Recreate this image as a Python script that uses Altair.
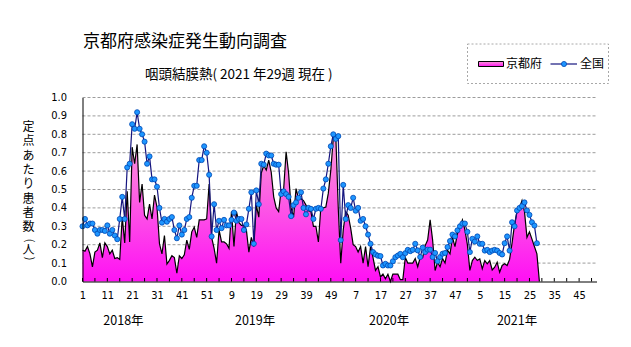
import altair as alt
import pandas as pd

# ---------------- data ----------------
kyoto_2018 = [0.17, 0.165, 0.19, 0.15, 0.08, 0.16, 0.17, 0.21, 0.13, 0.21,
              0.19, 0.15, 0.17, 0.125, 0.13, 0.12, 0.35, 0.21, 0.49, 0.215,
              0.73, 0.64, 0.745, 0.43, 0.53, 0.36, 0.34, 0.42, 0.34, 0.47,
              0.405, 0.205, 0.15, 0.25, 0.095, 0.115, 0.14, 0.13, 0.045, 0.14,
              0.125, 0.145, 0.225, 0.175, 0.27, 0.295, 0.24, 0.335, 0.335, 0.335,
              0.34, 0.53]
kyoto_2019 = [0.24, 0.18, 0.10, 0.28, 0.215, 0.215, 0.205, 0.18, 0.38, 0.19,
              0.38, 0.32, 0.305, 0.305, 0.28, 0.16, 0.24, 0.19, 0.415, 0.35,
              0.59, 0.63, 0.605, 0.66, 0.595, 0.46, 0.40, 0.38, 0.50, 0.50,
              0.705, 0.59, 0.40, 0.35, 0.505, 0.45, 0.45, 0.44, 0.415, 0.385,
              0.38, 0.30, 0.30, 0.215, 0.405, 0.40, 0.405, 0.48, 0.605, 0.78,
              0.795, 0.40]
kyoto_2020 = [0.10, 0.28, 0.38, 0.36, 0.29, 0.20, 0.19, 0.16, 0.19, 0.10,
              0.19, 0.08, 0.19, 0.13, 0.06, 0.08, 0.025, 0.04, 0.015, 0.04,
              0.0, 0.04, 0.04, 0.04, 0.01, 0.01, 0.13, 0.10, 0.10, 0.10,
              0.125, 0.08, 0.13, 0.13, 0.195, 0.225, 0.335, 0.225, 0.06, 0.105,
              0.08, 0.125, 0.10, 0.17, 0.15, 0.24, 0.19, 0.26, 0.295, 0.335,
              0.28, 0.20]
kyoto_2021 = [0.06, 0.114, 0.132, 0.114, 0.123, 0.069, 0.114, 0.096, 0.114, 0.063,
              0.078, 0.105, 0.05, 0.087, 0.096, 0.087, 0.12, 0.21, 0.31, 0.38,
              0.40, 0.44, 0.38, 0.24, 0.27, 0.23, 0.19, 0.15, 0.0]

national_2018 = [0.30, 0.34, 0.305, 0.315, 0.315, 0.28, 0.26, 0.28, 0.28, 0.275,
                 0.305, 0.26, 0.28, 0.25, 0.23, 0.34, 0.46, 0.34, 0.62, 0.64,
                 0.855, 0.83, 0.92, 0.83, 0.80, 0.76, 0.64, 0.68, 0.555, 0.555,
                 0.515, 0.40, 0.32, 0.34, 0.325, 0.34, 0.35, 0.28, 0.235, 0.305,
                 0.255, 0.28, 0.34, 0.35, 0.455, 0.52, 0.52, 0.66, 0.66, 0.735,
                 0.70, 0.58]
national_2019 = [0.245, 0.42, 0.28, 0.33, 0.29, 0.335, 0.305, 0.305, 0.335, 0.375,
                 0.33, 0.34, 0.34, 0.28, 0.31, 0.395, 0.485, 0.205, 0.495, 0.42,
                 0.64, 0.635, 0.695, 0.685, 0.685, 0.64, 0.635, 0.635, 0.475, 0.49,
                 0.475, 0.46, 0.355, 0.415, 0.43, 0.455, 0.485, 0.40, 0.365, 0.40,
                 0.395, 0.34, 0.395, 0.40, 0.395, 0.505, 0.555, 0.64, 0.735, 0.80,
                 0.775, 0.79]
national_2020 = [0.225, 0.525, 0.34, 0.415, 0.40, 0.455, 0.385, 0.40, 0.33, 0.34,
                 0.30, 0.255, 0.205, 0.16, 0.147, 0.14, 0.138, 0.087, 0.096, 0.087,
                 0.087, 0.11, 0.132, 0.141, 0.15, 0.132, 0.154, 0.172, 0.165, 0.172,
                 0.205, 0.169, 0.133, 0.184, 0.16, 0.173, 0.173, 0.133, 0.155, 0.11,
                 0.133, 0.151, 0.155, 0.187, 0.22, 0.255, 0.245, 0.278, 0.30, 0.315,
                 0.315, 0.27]
national_2021 = [0.16, 0.232, 0.217, 0.245, 0.205, 0.205, 0.168, 0.172, 0.16, 0.168,
                 0.172, 0.168, 0.155, 0.147, 0.208, 0.245, 0.168, 0.322, 0.30, 0.386,
                 0.40, 0.41, 0.43, 0.386, 0.362, 0.322, 0.304, 0.208]

year_labels = ["2018年", "2019年", "2020年", "2021年"]
y_ticks = [round(0.1 * k, 1) for k in range(11)]
x_label_weeks = list(range(0, 208, 10))
x_minor_ticks = list(range(0, 208, 5))
y_title_chars = ["定", "点", "あ", "た", "り", "患", "者", "数"]

# ---------------- layout ----------------
W, H = 514, 184
PL, PT = 82.5, 97.5
N_WEEKS = 208
year_label_pos = [16.5, 69.5, 123.5, 175.0]

CJK = "Noto Sans CJK JP"
NARROW = "Liberation Sans Narrow, DejaVu Sans Condensed, Arial Narrow, Liberation Sans, sans-serif"

kyoto = kyoto_2018 + kyoto_2019 + kyoto_2020 + kyoto_2021
national = national_2018 + national_2019 + national_2020 + national_2021
df_k = pd.DataFrame({"i": list(range(len(kyoto))), "v": kyoto})
df_n = pd.DataFrame({"i": list(range(len(national))), "v": national})

xs = alt.Scale(domain=[0, N_WEEKS - 1], nice=False, zero=False)
ys = alt.Scale(domain=[0, 1], nice=False)

AX_X = alt.Axis(values=x_label_weeks, labelExpr="datum.value % 52 + 1",
                tickSize=0, labelPadding=8, domainColor="black", domainWidth=1,
                labelFont=NARROW, labelFontSize=11, labelColor="black",
                labelFlush=False, labelOverlap=False, labelBound=False,
                grid=False, title=None, zindex=2)
AX_Y = alt.Axis(values=y_ticks, format=".1f", tickSize=0, labelPadding=16,
                domainColor="black", domainWidth=1, labelFont=NARROW, labelFontSize=11,
                labelColor="black", labelOverlap=False, labelFlush=False,
                labelBound=False, grid=False, title=None, zindex=2)


def X(field):
    return alt.X(field, scale=xs, axis=AX_X)


def Y(field):
    return alt.Y(field, scale=ys, axis=AX_Y)


pink = alt.Gradient(gradient="linear",
                    stops=[alt.GradientStop(color="#FA9AD8", offset=0),
                           alt.GradientStop(color="#FF10F4", offset=1)],
                    x1=1, x2=1, y1=0, y2=1)

# grid lines
grid = alt.Chart(pd.DataFrame({"g": y_ticks[1:]})).mark_rule(
    color="#9c9c9c", strokeDash=[3, 2], strokeWidth=1
).encode(y=Y("g:Q"), x=alt.value(0), x2=alt.value(W))

area = alt.Chart(df_k).mark_area(fill=pink, interpolate="linear").encode(
    x=X("i:Q"), y=Y("v:Q"))
outline = alt.Chart(df_k).mark_line(color="black", strokeWidth=1.2).encode(
    x=X("i:Q"), y=Y("v:Q"))

nat_line = alt.Chart(df_n).mark_line(color="#15157f", strokeWidth=1.2).encode(
    x=X("i:Q"), y=Y("v:Q"))
nat_pts = alt.Chart(df_n).mark_point(filled=True, fill="#1E96FF", stroke="#0047B3",
                                     strokeWidth=0.8, size=26, opacity=1).encode(
    x=X("i:Q"), y=Y("v:Q"))

minor = alt.Chart(pd.DataFrame({"t": x_minor_ticks})).mark_rule(
    color="black", strokeWidth=1
).encode(x=X("t:Q"), y=alt.value(H - 3.5), y2=alt.value(H))

years = alt.Chart(pd.DataFrame({"label": year_labels, "pos": year_label_pos})).mark_text(
    font=CJK, fontSize=12.5, color="black", baseline="middle", align="center"
).encode(x=X("pos:Q"), y=alt.value(321 - PT), text="label:N")


def label(txt, px, py, size, align="left", angle=0, font=CJK, baseline="middle"):
    kw = dict(font=font, fontSize=size, color="black", align=align, baseline=baseline)
    if angle:
        kw["angle"] = angle
    return alt.Chart(pd.DataFrame({"t": [txt]})).mark_text(**kw).encode(
        text="t:N", x=alt.value(px - PL), y=alt.value(py - PT))


title = label("京都府感染症発生動向調査", 185, 42, 17, align="center")
subtitle = label("咽頭結膜熱( 2021 年29週 現在 )", 145, 75, 13.5)

# vertical y title, one upright character per row
ytitle_df = pd.DataFrame({"c": y_title_chars,
                          "py": [127 + 14.3 * k - PT for k in range(len(y_title_chars))]})
ylab = alt.Chart(ytitle_df).mark_text(
    font=CJK, fontSize=12, color="black", align="center", baseline="middle"
).encode(text="c:N", y=alt.Y("py:Q", scale=None, axis=None), x=alt.value(28.5 - PL))
ylab_p1 = label("(", 28.5, 240.5, 11, align="center", angle=90)
ylab_ren = label("人", 28.5, 249.5, 12, align="center")
ylab_p2 = label(")", 28.5, 258.5, 11, align="center", angle=90)

# legend
box = alt.Chart(pd.DataFrame({"a": [0]})).mark_rect(
    fill="white", stroke="#a8a8a8", strokeDash=[2, 2], strokeWidth=1
).encode(x=alt.value(467.5 - PL), x2=alt.value(608.5 - PL),
         y=alt.value(44 - PT), y2=alt.value(83.5 - PT))
swatch = alt.Chart(pd.DataFrame({"a": [0]})).mark_rect(
    fill=pink, stroke="black", strokeWidth=1
).encode(x=alt.value(478.5 - PL), x2=alt.value(503.5 - PL),
         y=alt.value(61.5 - PT), y2=alt.value(66.5 - PT))
leg_k = label("京都府", 506, 64, 12)
leg_line = alt.Chart(pd.DataFrame({"a": [0]})).mark_rule(
    color="#15157f", strokeWidth=1.2
).encode(x=alt.value(550.5 - PL), x2=alt.value(577 - PL), y=alt.value(64 - PT))
leg_dot = alt.Chart(pd.DataFrame({"a": [0]})).mark_point(
    filled=True, fill="#1E96FF", stroke="#0047B3", strokeWidth=0.8, size=26, opacity=1
).encode(x=alt.value(564 - PL), y=alt.value(64 - PT))
leg_n = label("全国", 580, 64, 12)

chart = alt.layer(
    grid, area, outline, nat_line, nat_pts, minor, years,
    title, subtitle, ylab, ylab_p1, ylab_ren, ylab_p2,
    box, swatch, leg_k, leg_line, leg_dot, leg_n
).properties(
    width=W, height=H,
    autosize=alt.AutoSizeParams(type="none"),
    padding={"left": PL, "top": PT, "right": 631 - PL - W, "bottom": 347 - PT - H},
    background="white",
).configure_view(strokeWidth=0)

chart.save("out.html", embed_options={"renderer": "svg", "actions": False})
